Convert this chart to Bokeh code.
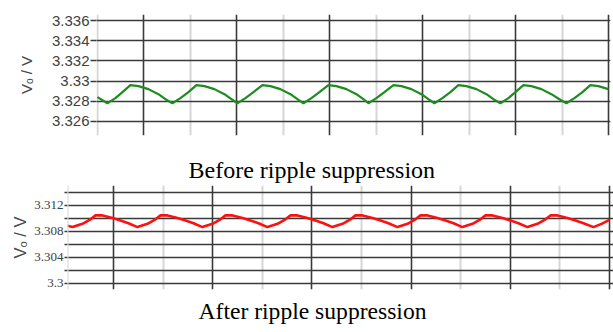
from bokeh.plotting import figure
from bokeh.models import FixedTicker, Grid, CustomJSTickFormatter, Title, Range1d, Span
from bokeh.embed import file_html
from bokeh.resources import INLINE

# ---- data (time in grid divisions, voltage in V) ----
before_t = [0.000, 0.215,
            0.387, 0.538, 0.710, 0.882, 1.097, 1.312, 1.462, 1.613,
            1.785, 1.957, 2.129, 2.301, 2.516, 2.731, 2.882, 3.011,
            3.183, 3.355, 3.548, 3.720, 3.935, 4.151, 4.301, 4.430,
            4.602, 4.774, 4.968, 5.140, 5.355, 5.570, 5.720, 5.828,
            6.000, 6.172, 6.366, 6.538, 6.753, 6.968, 7.118, 7.247,
            7.419, 7.591, 7.763, 7.935, 8.151, 8.366, 8.516, 8.667,
            8.839, 8.989, 9.161, 9.333, 9.548, 9.763, 9.935, 10.086,
            10.258, 10.430, 10.602, 10.774, 10.989]
before_v = [3.3284, 3.3278,
            3.3283, 3.3289, 3.3296, 3.3295, 3.3292, 3.3287, 3.3282, 3.3278,
            3.3283, 3.3289, 3.3296, 3.3295, 3.3292, 3.3287, 3.3282, 3.3278,
            3.3283, 3.3289, 3.3296, 3.3295, 3.3292, 3.3287, 3.3282, 3.3278,
            3.3283, 3.3289, 3.3296, 3.3295, 3.3292, 3.3287, 3.3282, 3.3278,
            3.3283, 3.3289, 3.3296, 3.3295, 3.3292, 3.3287, 3.3282, 3.3278,
            3.3283, 3.3289, 3.3296, 3.3295, 3.3292, 3.3287, 3.3282, 3.3278,
            3.3283, 3.3289, 3.3296, 3.3295, 3.3292, 3.3287, 3.3282, 3.3278,
            3.3283, 3.3289, 3.3296, 3.3295, 3.3292]

after_t = [0.073, 0.173,
           0.375, 0.537, 0.638, 0.779, 0.980, 1.141, 1.302, 1.484,
           1.686, 1.847, 1.948, 2.089, 2.291, 2.453, 2.614, 2.794,
           2.996, 3.157, 3.259, 3.400, 3.601, 3.762, 3.924, 4.105,
           4.307, 4.468, 4.569, 4.710, 4.911, 5.073, 5.235, 5.415,
           5.617, 5.778, 5.880, 6.021, 6.223, 6.384, 6.545, 6.726,
           6.928, 7.089, 7.190, 7.331, 7.532, 7.694, 7.856, 8.036,
           8.238, 8.399, 8.501, 8.642, 8.844, 9.005, 9.166, 9.347,
           9.548, 9.710, 9.810, 9.952, 10.154, 10.315, 10.476, 10.677,
           10.839, 11.000]
after_v = [3.3088, 3.3086,
           3.3091, 3.3098, 3.3104, 3.3104, 3.3100, 3.3096, 3.3092, 3.3086,
           3.3091, 3.3098, 3.3104, 3.3104, 3.3100, 3.3096, 3.3092, 3.3086,
           3.3091, 3.3098, 3.3104, 3.3104, 3.3100, 3.3096, 3.3092, 3.3086,
           3.3091, 3.3098, 3.3104, 3.3104, 3.3100, 3.3096, 3.3092, 3.3086,
           3.3091, 3.3098, 3.3104, 3.3104, 3.3100, 3.3096, 3.3092, 3.3086,
           3.3091, 3.3098, 3.3104, 3.3104, 3.3100, 3.3096, 3.3092, 3.3086,
           3.3091, 3.3098, 3.3104, 3.3104, 3.3100, 3.3096, 3.3092, 3.3086,
           3.3091, 3.3098, 3.3104, 3.3104, 3.3100, 3.3096, 3.3092, 3.3086,
           3.3091, 3.3097]

div_dark = [1, 3, 5, 7, 9, 11]
div_light = [0, 2, 4, 6, 8, 10]
before_ticks = [3.326, 3.328, 3.330, 3.332, 3.334, 3.336]
after_label_ticks = [3.300, 3.304, 3.308, 3.312]
after_minor_ticks = [3.302, 3.306, 3.310, 3.314]
after_grid_ticks = [3.300, 3.302, 3.304, 3.306, 3.308, 3.310, 3.312, 3.314]

y_label = "V\u2092 / V"
caption_top = "Before ripple suppression"
caption_bottom = "After ripple suppression"

fmt = CustomJSTickFormatter(code="return parseFloat(tick.toFixed(4)).toString();")
DARK = "#3a3a3a"
LIGHT = "#d6d6d6"
CAPTION_FONT = "Liberation Serif"


def style(p, yticks, ygrid_ticks, minor, tick_out, tick_font, tick_size, lab_size, lab_standoff):
    p.outline_line_color = None
    p.xaxis.visible = False
    p.xgrid.visible = False
    p.ygrid.visible = False
    p.add_layout(Grid(dimension=0, ticker=FixedTicker(ticks=div_light),
                      grid_line_color=LIGHT, grid_line_width=2))
    p.add_layout(Grid(dimension=0, ticker=FixedTicker(ticks=div_dark),
                      grid_line_color=DARK, grid_line_width=1.6))
    p.add_layout(Grid(dimension=1, ticker=FixedTicker(ticks=ygrid_ticks),
                      grid_line_color=DARK, grid_line_width=1.6))
    ax = p.yaxis[0]
    ax.ticker = FixedTicker(ticks=yticks, minor_ticks=minor)
    ax.formatter = fmt
    ax.axis_line_color = None
    ax.major_tick_in = 0
    ax.major_tick_out = tick_out
    ax.major_tick_line_color = DARK
    ax.major_tick_line_width = 1.6
    ax.minor_tick_in = 0
    ax.minor_tick_out = tick_out if minor else 0
    ax.minor_tick_line_color = DARK
    ax.minor_tick_line_width = 1.6
    ax.major_label_standoff = 1
    ax.major_label_text_font = tick_font
    ax.major_label_text_font_size = tick_size
    ax.major_label_text_color = "#404040"
    ax.axis_label = y_label
    ax.axis_label_text_font = "Liberation Sans"
    ax.axis_label_text_font_style = "normal"
    ax.axis_label_text_font_size = lab_size
    ax.axis_label_text_color = "#45484f"
    ax.axis_label_standoff = lab_standoff


# ---- top panel: before suppression ----
p1 = figure(width=613, height=150, x_range=Range1d(-0.02, 11.034),
            y_range=Range1d(3.3246, 3.3366), output_backend="svg",
            toolbar_location=None, min_border_left=96, min_border_right=3,
            min_border_top=14, min_border_bottom=15)
style(p1, before_ticks, before_ticks, [], 6, "Liberation Sans", "15px", "15px", 14)
p1.line(before_t, before_v, line_color="#1e8c1e", line_width=2.2)

# ---- bottom panel: after suppression (carries both captions) ----
x2 = Range1d(0.073, 11.081)
p2 = figure(width=613, height=182, x_range=x2,
            y_range=Range1d(3.299, 3.315), output_backend="svg",
            toolbar_location=None, min_border_left=67, min_border_right=0,
            min_border_top=35, min_border_bottom=43)
style(p2, after_label_ticks, after_grid_ticks, after_minor_ticks, 3,
      "Liberation Sans Narrow", "13px", "16.5px", 2)
p2.add_layout(Span(location=x2.start, dimension="height", line_color=LIGHT, line_width=2))
p2.line(after_t, after_v, line_color="#ff1010", line_width=2.6)

p2.title.text = caption_top
p2.title.align = "left"
p2.title.offset = 121
p2.title.standoff = 5
p2.title.text_font = CAPTION_FONT
p2.title.text_font_size = "24px"
p2.title.text_font_style = "normal"
p2.title.text_color = "black"

p2.add_layout(Title(text=caption_bottom, align="left", offset=131,
                    text_font=CAPTION_FONT, text_font_size="23.6px",
                    text_font_style="normal", text_color="black", standoff=12), "below")

open("out.html", "w").write(file_html([p1, p2], INLINE))
